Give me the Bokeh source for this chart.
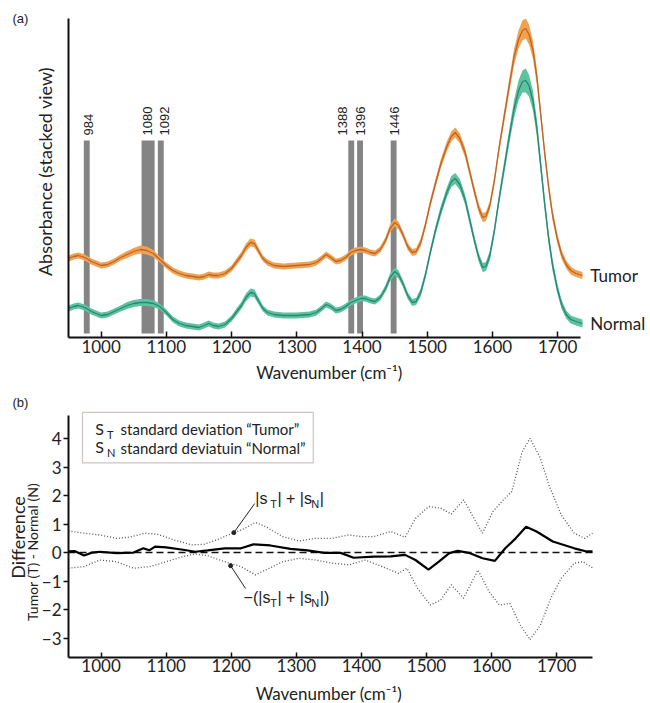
import math
from bokeh.plotting import figure
from bokeh.layouts import column
from bokeh.models import Label, BoxAnnotation, FixedTicker
from bokeh.embed import file_html
from bokeh.resources import INLINE

# ---------------- panel (a) data ----------------
wavenumber = [950, 958, 965, 975, 985, 1000, 1010, 1020, 1030, 1040,
              1050, 1060, 1070, 1080, 1090, 1100, 1110, 1120, 1130, 1140,
              1150, 1158, 1165, 1172, 1180, 1190, 1200, 1208, 1215, 1222,
              1229, 1235, 1241, 1248, 1255, 1265, 1280, 1300, 1320, 1330,
              1338, 1345, 1352, 1360, 1367, 1375, 1383, 1390, 1398, 1405,
              1413, 1420, 1428, 1436, 1443, 1450, 1456, 1462, 1470, 1477,
              1483, 1490, 1497, 1505, 1513, 1521, 1530, 1537, 1543, 1550,
              1558, 1565, 1572, 1579, 1585, 1590, 1596, 1603, 1610, 1618,
              1626, 1633, 1640, 1646, 1651, 1656, 1662, 1668, 1674, 1680,
              1686, 1692, 1699, 1706, 1713, 1720, 1728, 1738]
normal_abs = [0.29, 0.31, 0.32, 0.30, 0.26, 0.22, 0.23, 0.26, 0.29, 0.32,
              0.34, 0.35, 0.35, 0.34, 0.31, 0.25, 0.18, 0.14, 0.12, 0.11,
              0.10, 0.12, 0.14, 0.12, 0.11, 0.13, 0.19, 0.26, 0.32, 0.40,
              0.45, 0.44, 0.37, 0.29, 0.25, 0.23, 0.22, 0.22, 0.23, 0.25,
              0.29, 0.33, 0.31, 0.27, 0.28, 0.31, 0.35, 0.37, 0.39, 0.39,
              0.37, 0.36, 0.40, 0.49, 0.60, 0.66, 0.63, 0.55, 0.42, 0.35,
              0.36, 0.45, 0.62, 0.86, 1.08, 1.27, 1.45, 1.56, 1.59, 1.53,
              1.38, 1.18, 0.98, 0.80, 0.70, 0.71, 0.82, 1.07, 1.38, 1.70,
              2.02, 2.28, 2.47, 2.56, 2.57, 2.52, 2.37, 2.10, 1.72, 1.34,
              1.00, 0.73, 0.50, 0.33, 0.23, 0.18, 0.16, 0.14]
tumor_abs = [0.79, 0.81, 0.82, 0.80, 0.76, 0.72, 0.73, 0.76, 0.80, 0.83,
             0.86, 0.88, 0.87, 0.84, 0.78, 0.72, 0.67, 0.64, 0.62, 0.61,
             0.60, 0.61, 0.63, 0.62, 0.62, 0.64, 0.69, 0.76, 0.82, 0.90,
             0.95, 0.94, 0.87, 0.79, 0.75, 0.72, 0.71, 0.72, 0.73, 0.75,
             0.79, 0.83, 0.80, 0.76, 0.77, 0.80, 0.85, 0.87, 0.88, 0.87,
             0.85, 0.84, 0.88, 0.97, 1.09, 1.15, 1.12, 1.04, 0.91, 0.85,
             0.86, 0.95, 1.12, 1.35, 1.55, 1.74, 1.91, 2.01, 2.05, 1.99,
             1.85, 1.66, 1.47, 1.29, 1.20, 1.21, 1.32, 1.57, 1.89, 2.21,
             2.53, 2.80, 2.98, 3.07, 3.09, 3.03, 2.88, 2.61, 2.23, 1.85,
             1.51, 1.23, 1.00, 0.83, 0.73, 0.67, 0.64, 0.62]
normal_sd = [0.03, 0.03, 0.03, 0.03, 0.03, 0.03, 0.03, 0.03, 0.03, 0.035,
             0.035, 0.035, 0.035, 0.035, 0.03, 0.03, 0.03, 0.03, 0.03, 0.03,
             0.03, 0.03, 0.03, 0.03, 0.03, 0.03, 0.03, 0.035, 0.035, 0.04,
             0.04, 0.04, 0.035, 0.03, 0.03, 0.03, 0.03, 0.03, 0.03, 0.03,
             0.03, 0.03, 0.03, 0.03, 0.03, 0.03, 0.03, 0.03, 0.03, 0.03,
             0.03, 0.03, 0.03, 0.035, 0.04, 0.04, 0.04, 0.035, 0.035, 0.035,
             0.035, 0.04, 0.04, 0.04, 0.045, 0.05, 0.05, 0.055, 0.055, 0.055,
             0.05, 0.05, 0.045, 0.045, 0.045, 0.045, 0.05, 0.05, 0.055, 0.065,
             0.075, 0.09, 0.10, 0.11, 0.12, 0.11, 0.10, 0.09, 0.08, 0.07,
             0.065, 0.06, 0.05, 0.045, 0.04, 0.04, 0.04, 0.04]
tumor_sd = [0.03, 0.03, 0.03, 0.03, 0.03, 0.03, 0.03, 0.03, 0.03, 0.035,
            0.035, 0.04, 0.04, 0.035, 0.03, 0.03, 0.03, 0.03, 0.03, 0.03,
            0.03, 0.03, 0.03, 0.03, 0.03, 0.03, 0.03, 0.035, 0.035, 0.04,
            0.04, 0.04, 0.035, 0.03, 0.03, 0.03, 0.03, 0.03, 0.03, 0.03,
            0.03, 0.03, 0.03, 0.03, 0.03, 0.03, 0.03, 0.03, 0.03, 0.03,
            0.03, 0.03, 0.03, 0.035, 0.04, 0.04, 0.04, 0.035, 0.035, 0.035,
            0.035, 0.04, 0.04, 0.04, 0.045, 0.045, 0.05, 0.05, 0.05, 0.05,
            0.05, 0.045, 0.045, 0.045, 0.045, 0.045, 0.045, 0.05, 0.05, 0.06,
            0.07, 0.08, 0.09, 0.10, 0.10, 0.10, 0.09, 0.08, 0.07, 0.065,
            0.06, 0.055, 0.05, 0.045, 0.04, 0.04, 0.035, 0.035]

band_labels = ["984", "1080", "1092", "1388", "1396", "1446"]
band_centers = [978, 1072, 1091.5, 1383.5, 1397, 1448.5]
band_widths = [9, 20, 9, 9, 9, 9]
band_label_x = [981, 1071, 1097, 1370, 1398, 1450]
band_bottom = 0.04
band_top = 1.97
band_label_y = 2.02

x_ticks = [1000, 1100, 1200, 1300, 1400, 1500, 1600, 1700]
xa_extent = (950, 1735)   # wavenumber span of panel (a) axis
ya_extent = (0, 3.19)

# ---------------- panel (b) data ----------------
diff_wn = [950, 960, 974, 986, 998, 1024, 1050, 1065, 1074, 1083, 1100, 1126, 1145, 1164, 1190,
           1215, 1234, 1260, 1291, 1317, 1343, 1368, 1388, 1419, 1445, 1467, 1483, 1503, 1519,
           1535, 1548, 1567, 1586, 1605, 1621, 1637, 1653, 1669, 1694, 1727, 1746, 1755]
diff_val = [0.04, 0.05, -0.10, 0.0, 0.03, -0.02, 0.0, 0.15, 0.08, 0.21, 0.18, 0.10, 0.03, 0.08,
            0.15, 0.15, 0.29, 0.25, 0.13, 0.08, -0.01, -0.01, -0.18, -0.14, -0.13, -0.08, -0.26,
            -0.60, -0.32, -0.02, 0.06, -0.02, -0.20, -0.29, 0.15, 0.50, 0.91, 0.74, 0.39, 0.15,
            0.04, 0.04]
upper_wn = [950, 974, 998, 1024, 1043, 1068, 1087, 1113, 1139, 1158, 1177, 1202, 1221, 1237,
            1253, 1279, 1304, 1330, 1355, 1381, 1400, 1419, 1445, 1467, 1483, 1503, 1522, 1538,
            1557, 1573, 1586, 1602, 1618, 1631, 1647, 1659, 1675, 1688, 1707, 1727, 1743, 1755]
upper_val = [0.76, 0.68, 0.62, 0.50, 0.54, 0.68, 0.64, 0.44, 0.27, 0.29, 0.44, 0.68, 0.85, 1.06,
             0.91, 0.56, 0.41, 0.50, 0.50, 0.62, 0.56, 0.56, 0.74, 0.54, 1.20, 1.61, 1.56, 1.35,
             1.85, 1.20, 0.68, 1.44, 1.85, 2.14, 3.54, 4.01, 3.31, 2.37, 1.32, 0.68, 0.50, 0.68]
lower_wn = [950, 974, 998, 1024, 1050, 1075, 1100, 1126, 1145, 1164, 1190, 1215, 1237, 1253,
            1279, 1304, 1330, 1355, 1381, 1406, 1432, 1457, 1470, 1486, 1506, 1522, 1538, 1557,
            1579, 1596, 1612, 1628, 1644, 1659, 1675, 1691, 1707, 1727, 1740, 1755]
lower_val = [-0.55, -0.49, -0.26, -0.32, -0.55, -0.49, -0.32, -0.14, -0.05, -0.11, -0.32, -0.49,
             -0.78, -0.61, -0.32, -0.20, -0.26, -0.37, -0.43, -0.26, -0.49, -0.73, -0.55, -1.25,
             -1.84, -1.66, -1.13, -1.60, -0.61, -1.37, -1.84, -1.78, -2.54, -3.06, -2.54, -1.60,
             -0.90, -0.37, -0.32, -0.53]
y_ticks_b = [-3, -2, -1, 0, 1, 2, 3, 4]
xb_extent = (950, 1755)
yb_extent = (-3.67, 4.81)

# annotation anchors (data coordinates of panel b)
upper_leader_x = [1236, 1204]
upper_leader_y = [1.72, 0.70]
lower_leader_x = [1222, 1199]
lower_leader_y = [-1.26, -0.46]

FONT = "Lato"
ARIAL = "Liberation Sans"
TXT = "#222222"

ORANGE_FILL = "#F2A24E"
ORANGE_LINE = "#B9652F"
TEAL_FILL = "#5CC39E"
TEAL_LINE = "#2A8676"


def style_axis_common(ax):
    ax.axis_line_width = 2
    ax.axis_line_color = "#111111"
    ax.major_tick_line_width = 1.5
    ax.major_tick_line_color = "#111111"
    ax.minor_tick_in = 0
    ax.minor_tick_out = 0
    ax.major_label_text_font = FONT
    ax.major_label_text_font_size = "17px"
    ax.major_label_text_color = TXT


def make_label(p, x, y, s, size="16px", font=FONT, align="left", angle=0.0, baseline="middle"):
    p.add_layout(Label(x=x, y=y, text=s, text_align=align, text_baseline=baseline,
                       text_font=font, text_font_size=size, text_color=TXT, angle=angle))


# ================= panel (a) =================
p1 = figure(width=650, height=385, x_range=(845.74, 1842.3), y_range=(-0.48, 3.37),
            output_backend="svg", toolbar_location=None, min_border=0,
            min_border_left=0, min_border_right=0, min_border_top=0, min_border_bottom=0)
p1.grid.visible = False
p1.outline_line_color = None
p1.background_fill_color = "white"
p1.border_fill_color = "white"

p1.vbar(x=band_centers, width=band_widths, bottom=band_bottom, top=band_top,
        fill_color="#848484", line_color=None)

t_lo = [v - s for v, s in zip(tumor_abs, tumor_sd)]
t_hi = [v + s for v, s in zip(tumor_abs, tumor_sd)]
n_lo = [v - s for v, s in zip(normal_abs, normal_sd)]
n_hi = [v + s for v, s in zip(normal_abs, normal_sd)]
p1.varea(x=wavenumber, y1=t_lo, y2=t_hi, fill_color=ORANGE_FILL, fill_alpha=1.0)
p1.line(wavenumber, tumor_abs, line_color=ORANGE_LINE, line_width=1.3)
p1.varea(x=wavenumber, y1=n_lo, y2=n_hi, fill_color=TEAL_FILL, fill_alpha=1.0)
p1.line(wavenumber, normal_abs, line_color=TEAL_LINE, line_width=1.3)

for lab, lx in zip(band_labels, band_label_x):
    make_label(p1, lx, band_label_y, lab, "13px", ARIAL, "left", math.pi / 2)

make_label(p1, 1750, 0.62, "Tumor", "17px")
make_label(p1, 1750, 0.14, "Normal", "17px")
make_label(p1, 864, 3.19, "(a)", "13px", ARIAL)
make_label(p1, 914, 1.66, "Absorbance (stacked view)", "18px", FONT, "center", math.pi / 2)
make_label(p1, 1350, -0.35, "Wavenumber (cm⁻¹)", "17px", FONT, "center")

xa = p1.xaxis[0]
style_axis_common(xa)
xa.fixed_location = ya_extent[0]
xa.bounds = xa_extent
xa.ticker = FixedTicker(ticks=x_ticks)
xa.major_tick_in = 6
xa.major_tick_out = 0
xa.major_label_standoff = 2

ya = p1.yaxis[0]
style_axis_common(ya)
ya.fixed_location = xa_extent[0]
ya.bounds = ya_extent
ya.ticker = FixedTicker(ticks=[])
ya.major_tick_in = 0
ya.major_tick_out = 0
ya.major_label_text_font_size = "0px"

# ================= panel (b) =================
p2 = figure(width=650, height=318, x_range=(845.53, 1844.1), y_range=(-5.295, 5.863),
            output_backend="svg", toolbar_location=None, min_border=0,
            min_border_left=0, min_border_right=0, min_border_top=0, min_border_bottom=0)
p2.grid.visible = False
p2.outline_line_color = None
p2.background_fill_color = "white"
p2.border_fill_color = "white"

p2.add_layout(BoxAnnotation(left=971.5, right=1326, bottom=3.15, top=4.92,
                            fill_color="white", fill_alpha=1.0,
                            line_color="#5a4034", line_width=1.2))

p2.line([xb_extent[0], xb_extent[1]], [0, 0], line_color="#111111", line_width=1.5,
        line_dash="7 4")
p2.line(upper_wn, upper_val, line_color="#555555", line_width=1.3, line_dash="1 2")
p2.line(lower_wn, lower_val, line_color="#555555", line_width=1.3, line_dash="1 2")
p2.line(diff_wn, diff_val, line_color="#000000", line_width=2.2)

p2.line(upper_leader_x, upper_leader_y, line_color="#222222", line_width=1)
p2.line(lower_leader_x, lower_leader_y, line_color="#222222", line_width=1)
p2.scatter([upper_leader_x[1], lower_leader_x[1]], [upper_leader_y[1], lower_leader_y[1]],
           size=4, color="#222222")

# legend box texts
make_label(p2, 991, 4.36, "S", "16px")
make_label(p2, 1009, 4.14, "T", "11px")
make_label(p2, 1030, 4.33, "standard deviation “Tumor”", "15px")
make_label(p2, 991, 3.72, "S", "16px")
make_label(p2, 1009, 3.50, "N", "11px")
make_label(p2, 1030, 3.68, "standard deviatuin “Normal”", "15px")

# |sT| + |sN|
make_label(p2, 1237, 1.89, "|s", "16px", ARIAL)
make_label(p2, 1260, 1.70, "T", "11px", ARIAL)
make_label(p2, 1271, 1.89, "| + |s", "16px", ARIAL)
make_label(p2, 1323, 1.70, "N", "11px", ARIAL)
make_label(p2, 1336, 1.89, "|", "16px", ARIAL)
# −(|sT| + |sN|)
make_label(p2, 1219, -1.59, "−(|s", "16px", ARIAL)
make_label(p2, 1260, -1.78, "T", "11px", ARIAL)
make_label(p2, 1271, -1.59, "| + |s", "16px", ARIAL)
make_label(p2, 1323, -1.78, "N", "11px", ARIAL)
make_label(p2, 1336, -1.59, "|)", "16px", ARIAL)

# panel label, titles
make_label(p2, 864, 5.27, "(b)", "13px", ARIAL)
make_label(p2, 872.5, 0.53, "Difference", "18px", FONT, "center", math.pi / 2)
make_label(p2, 894, 0.02, "Tumor (T) - Normal (N)", "14px", FONT, "center", math.pi / 2)
make_label(p2, 1350, -4.94, "Wavenumber (cm⁻¹)", "17px", FONT, "center")

xb = p2.xaxis[0]
style_axis_common(xb)
xb.fixed_location = yb_extent[0]
xb.bounds = xb_extent
xb.ticker = FixedTicker(ticks=x_ticks)
xb.major_tick_in = 5
xb.major_tick_out = 0
xb.major_label_standoff = 2

yb = p2.yaxis[0]
style_axis_common(yb)
yb.fixed_location = xb_extent[0]
yb.bounds = yb_extent
yb.ticker = FixedTicker(ticks=y_ticks_b)
yb.major_tick_in = 0
yb.major_tick_out = 5
yb.major_label_standoff = 2

layout = column(p1, p2, spacing=0)
open("out.html", "w").write(file_html(layout, INLINE))
